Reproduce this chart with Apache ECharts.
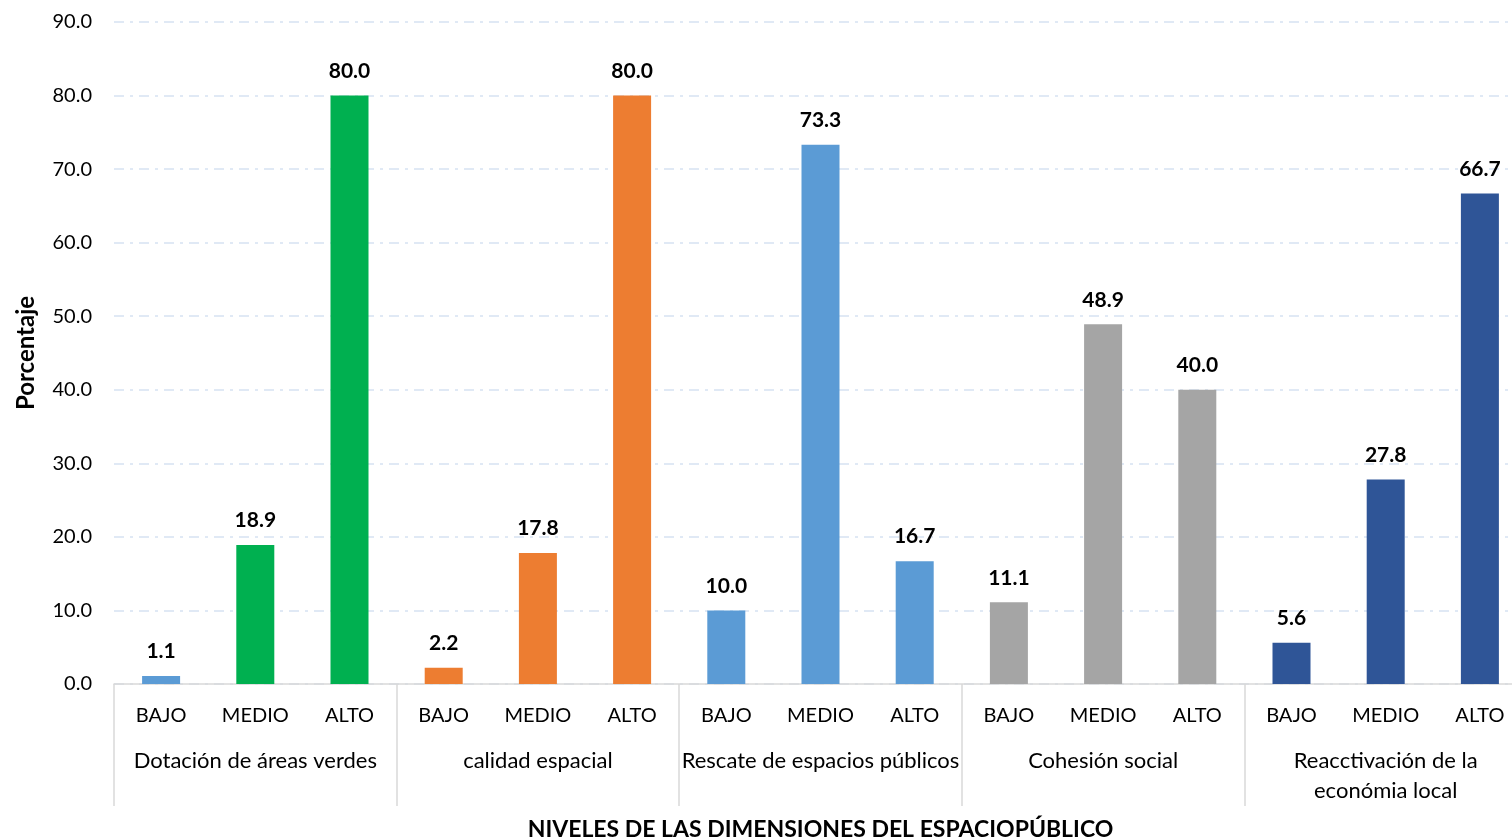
<!DOCTYPE html>
<html><head><meta charset="utf-8">
<script src="https://cdn.jsdelivr.net/npm/echarts@6/dist/echarts.min.js"></script>
<style>html,body{margin:0;padding:0;background:#fff;overflow:hidden}#c{width:1512px;height:840px}</style>
</head><body><div id="c"></div>
<script>
const levels = ['BAJO','MEDIO','ALTO','BAJO','MEDIO','ALTO','BAJO','MEDIO','ALTO','BAJO','MEDIO','ALTO','BAJO','MEDIO','ALTO'];
const groups = ['Dotación de áreas verdes','calidad espacial','Rescate de espacios públicos','Cohesión social','Reacctivación de la\neconómia local'];
const values = [1.1, 18.9, 80.0, 2.2, 17.8, 80.0, 10.0, 73.3, 16.7, 11.1, 48.9, 40.0, 5.6, 27.8, 66.7];
const yTicks = {min: 0, max: 90, interval: 10};
const barColors = ['#5B9BD5','#00B050','#00B050','#ED7D31','#ED7D31','#ED7D31','#5B9BD5','#5B9BD5','#5B9BD5','#A5A5A5','#A5A5A5','#A5A5A5','#2F5597','#2F5597','#2F5597'];

const FONT = 'Lato';
const chart = echarts.init(document.getElementById('c'), null, {renderer:'canvas'});
chart.setOption({
  animation: false,
  textStyle: {fontFamily: FONT},
  grid: {left: 114, width: 1413, top: 22, height: 662, containLabel: false, outerBoundsMode: 'none'},
  xAxis: [
    {type: 'category', data: levels, position: 'bottom',
     axisLine: {show: true, lineStyle: {color: '#D9D9D9', width: 1.5}},
     axisTick: {show: false},
     axisLabel: {color: '#000', fontSize: 20, margin: 22, interval: 0, fontFamily: FONT}},
    {type: 'category', data: groups, position: 'bottom',
     axisLine: {show: false},
     axisTick: {show: true, length: 122, lineStyle: {color: '#D9D9D9', width: 1.5}},
     axisLabel: {color: '#000', fontSize: 22, margin: 62, interval: 0, lineHeight: 30, fontFamily: FONT},
     name: 'NIVELES DE LAS DIMENSIONES DEL ESPACIOPÚBLICO', nameLocation: 'middle', nameGap: 134,
     nameTextStyle: {color: '#000', fontSize: 23, fontWeight: 'bold', fontFamily: FONT}}
  ],
  yAxis: {type: 'value', min: yTicks.min, max: yTicks.max, interval: yTicks.interval,
    axisLine: {show: false}, axisTick: {show: false},
    axisLabel: {color: '#000', fontSize: 20, margin: 22, formatter: v => v.toFixed(1), fontFamily: FONT},
    splitLine: {show: true, lineStyle: {color: '#D6E2F2', width: 1.5, type: [10, 6, 3, 6]}},
    name: 'Porcentaje', nameLocation: 'middle', nameGap: 76, nameRotate: 90,
    nameTextStyle: {color: '#000', fontSize: 24, fontWeight: 'bold', fontFamily: FONT}},
  series: [{
    type: 'bar', xAxisIndex: 0, barWidth: 38,
    data: values.map((v, i) => ({value: v, itemStyle: {color: barColors[i]}})),
    label: {show: true, position: 'top', distance: 14, color: '#000', fontSize: 21, fontWeight: 'bold',
      fontFamily: FONT, formatter: p => p.value.toFixed(1)}
  }]
});
</script></body></html>
